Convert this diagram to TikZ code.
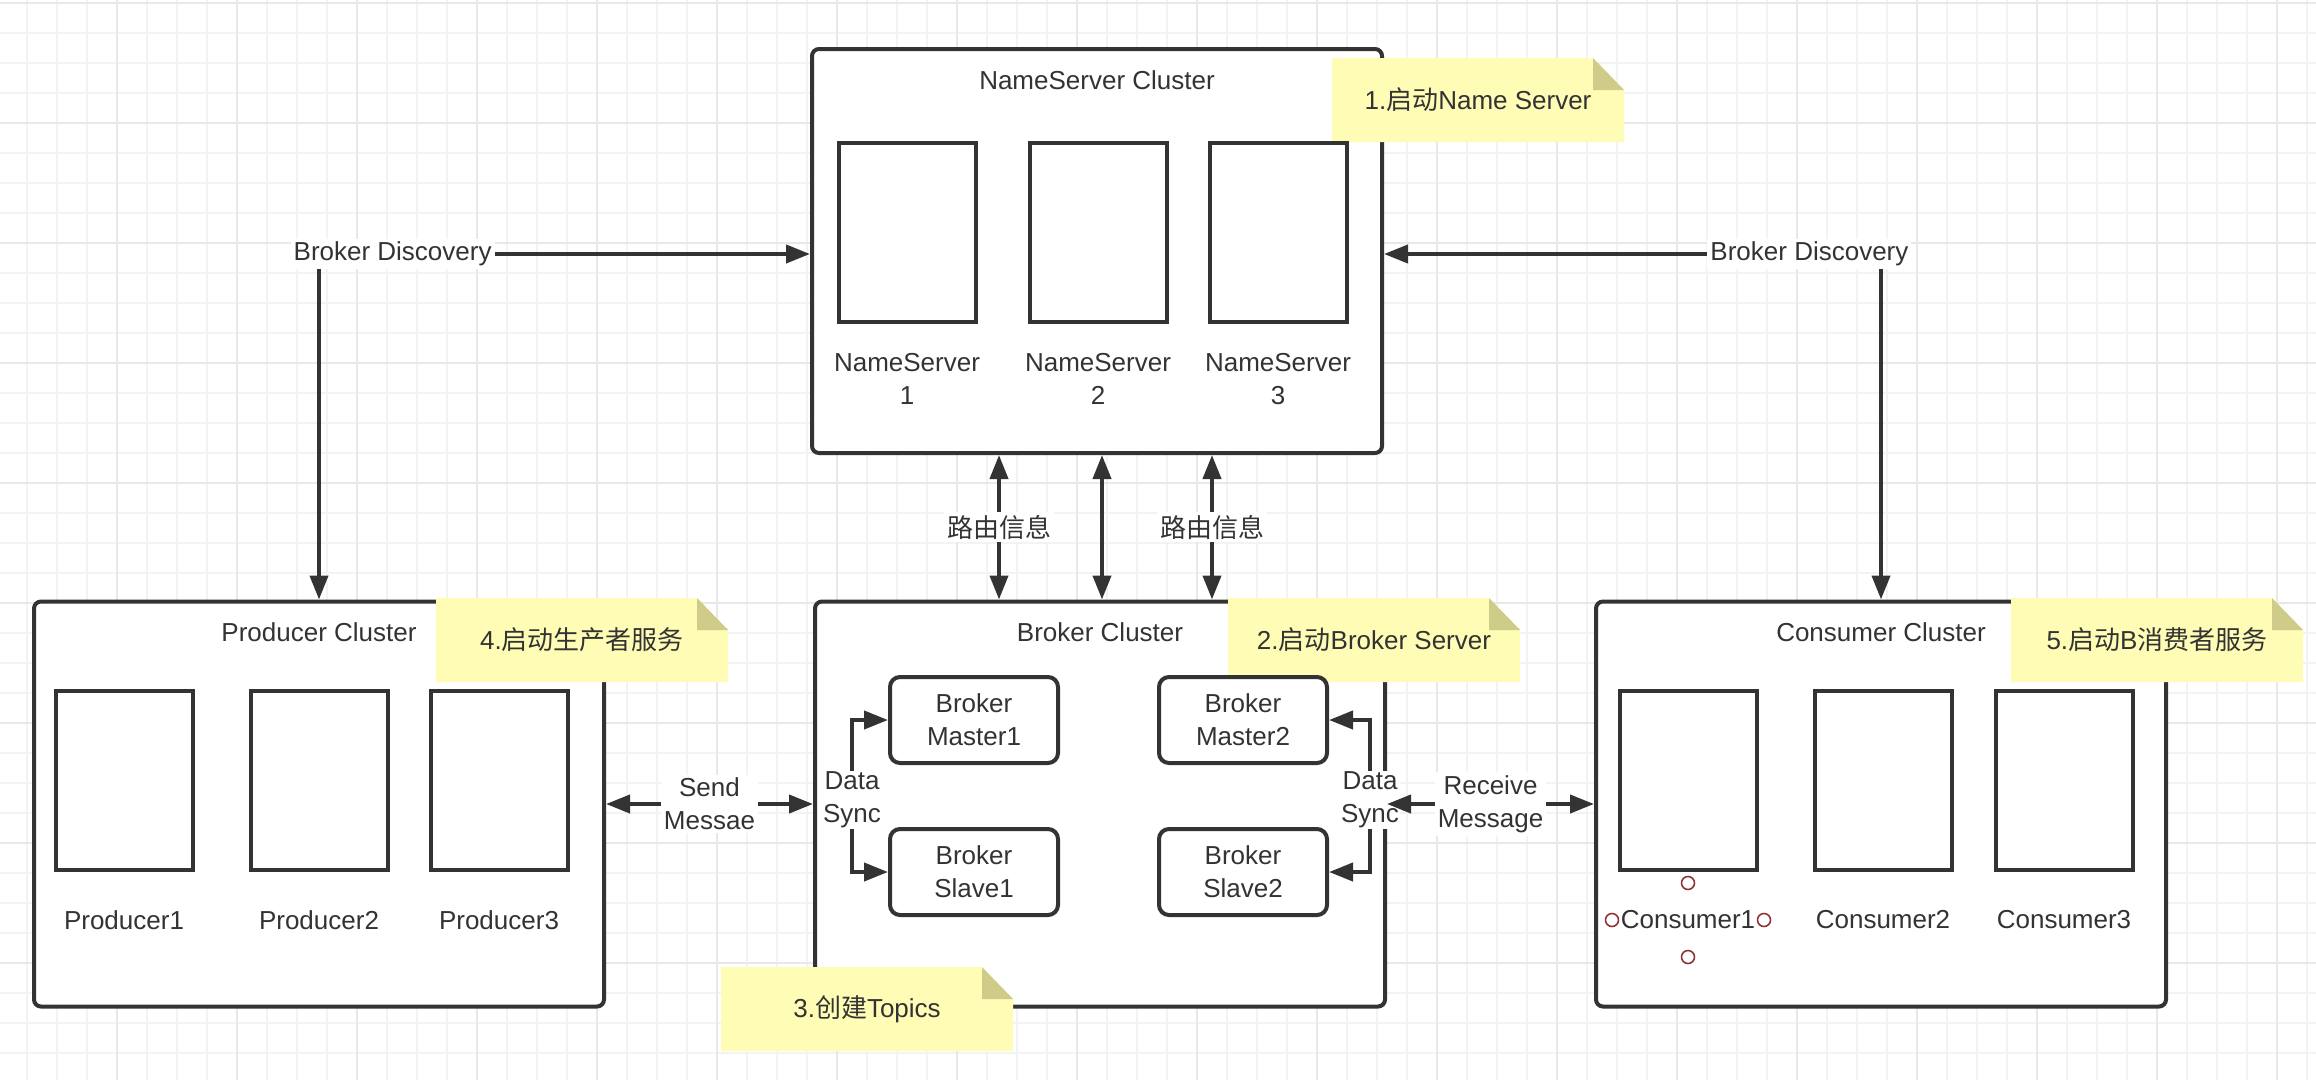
\documentclass[tikz,border=0pt]{standalone}
\usepackage{fontspec}
\setmainfont{Liberation Sans}
\newfontfamily\cjk{Noto Sans CJK SC}
\usepackage{tikz}
\usetikzlibrary{arrows.meta,calc}
\definecolor{ink}{HTML}{333333}
\definecolor{gridminor}{HTML}{F3F3F3}
\definecolor{gridmajor}{HTML}{E8E8E8}
\definecolor{notebody}{HTML}{FFFCB6}
\definecolor{notefold}{HTML}{CFCC8A}
\definecolor{pinred}{HTML}{8E3434}
\tikzset{
  cluster/.style={draw=ink, line width=4pt, rounded corners=7pt, fill=white,
    minimum width=570pt, minimum height=405pt},
  srvbox/.style={draw=ink, line width=4pt, fill=white,
    minimum width=137pt, minimum height=179pt},
  brkbox/.style={draw=ink, line width=4pt, rounded corners=10pt, fill=white,
    minimum width=168pt, minimum height=86pt, align=center},
  lbl/.style={align=center, inner sep=0pt},
  tag/.style={fill=white, align=center, inner sep=3pt},
  link/.style={draw=ink, line width=4pt, >={Triangle[length=24pt,width=18pt]}},
  notetxt/.style={inner sep=0pt},
  pin/.style={draw=pinred, line width=1.6pt}
}

\begin{document}
\begin{tikzpicture}[x=1pt, y=-1pt, font=\fontsize{26}{33}\selectfont, text=ink]
\useasboundingbox (0,0) rectangle (2316,1080);
\fill[white] (0,0) rectangle (2316,1080);
% grid
\foreach \x in {27,57,...,2316} \draw[gridminor, line width=1.6pt] (\x,0) -- (\x,1080);
\foreach \y in {3,33,...,1080} \draw[gridminor, line width=1.6pt] (0,\y) -- (2316,\y);
\foreach \x in {117,237,...,2316} \draw[gridmajor, line width=1.6pt] (\x,0) -- (\x,1080);
\foreach \y in {3,123,...,1080} \draw[gridmajor, line width=1.6pt] (0,\y) -- (2316,\y);

% clusters
\node[cluster, minimum height=404pt] (ns) at (1097,251) {};
\node[cluster] (prod) at (319,804) {};
\node[cluster] (brk) at (1100,804) {};
\node[cluster] (cons) at (1881,804) {};
\node (nsT) at ([yshift=-33pt]ns.north) {NameServer Cluster};
\node (prodT) at ([yshift=-33pt]prod.north) {Producer Cluster};
\node (brkT) at ([yshift=-33pt]brk.north) {Broker Cluster};
\node (consT) at ([yshift=-33pt]cons.north) {Consumer Cluster};

% notes
\foreach \nm/\cx/\cy/\txt in {n1/1478/100/{1.{\cjk 启动}Name Server},
    n2/1374/640/{2.{\cjk 启动}Broker Server},
    n3/867/1009/{3.{\cjk 创建}Topics},
    n4/582/640/{4.{\cjk 启动生产者服务}},
    n5/2157/640/{5.{\cjk 启动}B{\cjk 消费者服务}}}{
  \fill[notebody] ($(\cx,\cy)+(-146,-42)$) -- ($(\cx,\cy)+(115,-42)$) -- ($(\cx,\cy)+(146,-10)$)
    -- ($(\cx,\cy)+(146,42)$) -- ($(\cx,\cy)+(-146,42)$) -- cycle;
  \fill[notefold] ($(\cx,\cy)+(115,-42)$) -- ($(\cx,\cy)+(115,-10)$) -- ($(\cx,\cy)+(146,-10)$) -- cycle;
  \node[notetxt] (\nm) at (\cx,\cy) {\txt};
}

% servers
\foreach \i/\x in {1/907, 2/1098, 3/1278}{
  \node[srvbox] (ns\i) at (\x,232) {};
  \node[lbl] (ns\i-lbl) at (\x,379) {NameServer\\\i};
}
\foreach \i/\x in {1/124, 2/319, 3/499}{
  \node[srvbox] (p\i) at (\x,780) {};
  \node[lbl] (p\i-lbl) at (\x,920) {Producer\i};
}
\foreach \i/\x in {1/1688, 2/1883, 3/2064}{
  \node[srvbox] (c\i) at (\x,780) {};
  \node[lbl] (c\i-lbl) at (\x,920) {Consumer\i};
}
\foreach \dx/\dy in {0/-37, -76/0, 76/0, 0/37}
  \draw[pin] ($(c1-lbl)+(\dx,\dy)$) circle[radius=6.5pt];

\node[brkbox] (m1) at (974,720) {Broker\\Master1};
\node[brkbox] (m2) at (1243,720) {Broker\\Master2};
\node[brkbox] (s1) at (974,872) {Broker\\Slave1};
\node[brkbox] (s2) at (1243,872) {Broker\\Slave2};

% links
\draw[link,<->] (prod.north) |- node[tag, pos=0.575] (bd1) {Broker Discovery} ([yshift=-3pt]ns.west);
\draw[link,<->] (cons.north) |- node[tag, pos=0.572] (bd2) {Broker Discovery} ([yshift=-3pt]ns.east);
\draw[link,<->] ([xshift=-101pt]brk.north |- ns.south) -- node[tag] (rt1) {\cjk 路由信息} ([xshift=-101pt]brk.north);
\draw[link,<->] ([xshift=2pt]brk.north |- ns.south) -- ([xshift=2pt]brk.north);
\draw[link,<->] ([xshift=112pt]brk.north |- ns.south) -- node[tag] (rt2) {\cjk 路由信息} ([xshift=112pt]brk.north);

\node[tag, inner sep=1pt] (ds1) at (852,800) {Data\\Sync};
\node[tag, inner sep=1pt] (ds2) at (1370,800) {Data\\Sync};
\draw[link,->] (ds1.north) |- (m1.west);
\draw[link,->] (ds1.south) |- (s1.west);
\draw[link,->] (ds2.north) |- (m2.east);
\draw[link,->] (ds2.south) |- (s2.east);

\draw[link,<->] (prod.east) -- node[tag] (snd) {Send\\Messae} (brk.west);
\draw[link,<->] (brk.east) -- node[tag] (rcv) {Receive\\Message} (cons.west);
\end{tikzpicture}
\end{document}
